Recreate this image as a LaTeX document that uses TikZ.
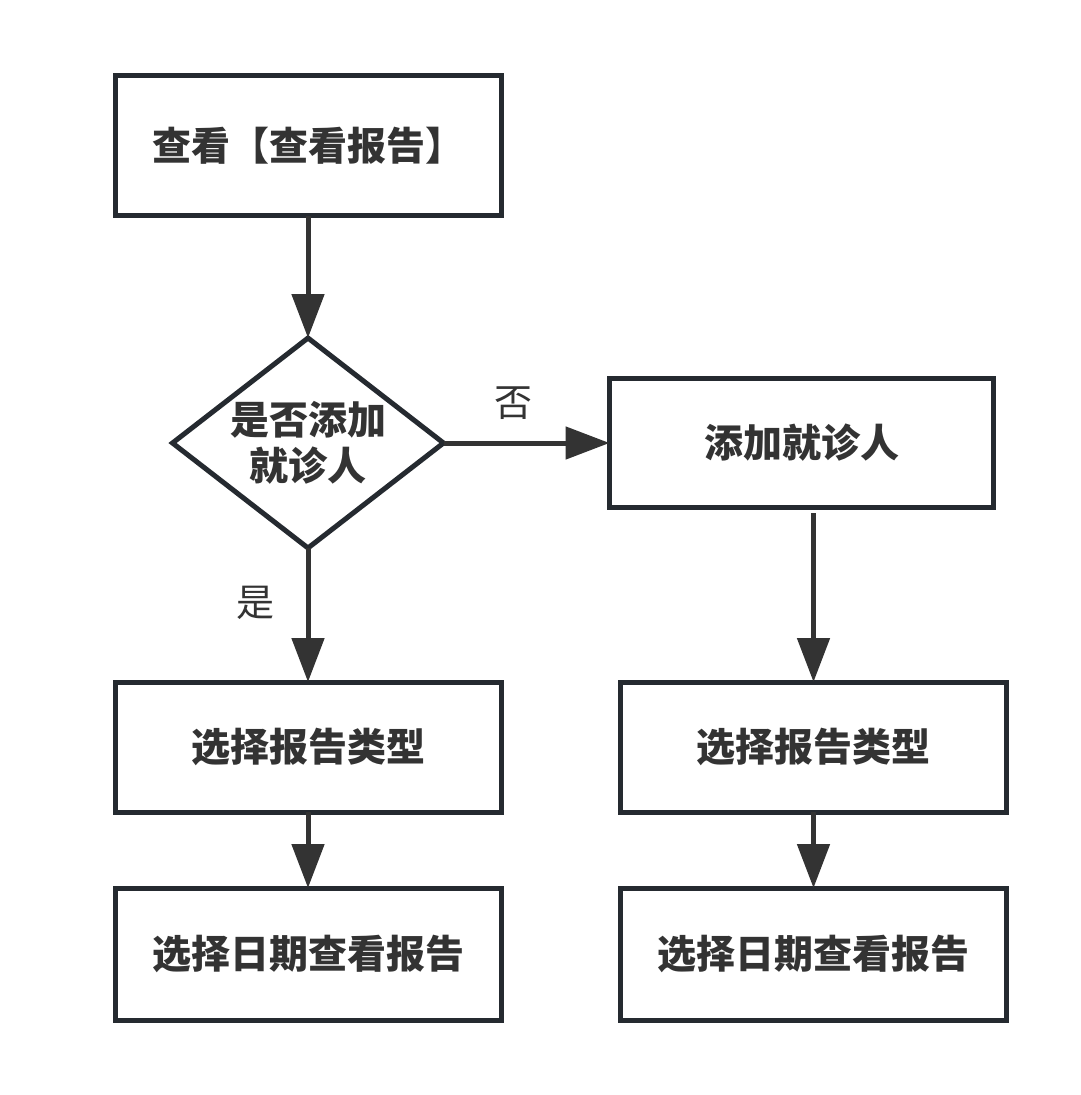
\documentclass[tikz,border=0pt]{standalone}
\usepackage{fontspec}
\newfontfamily\cjk{Noto Sans CJK SC}
\usetikzlibrary{shapes.geometric,arrows.meta}
\definecolor{bordercol}{HTML}{252A30}
\definecolor{inkcol}{HTML}{333333}
\begin{document}
\begin{tikzpicture}[x=1pt,y=-1pt,
  box/.style={draw=bordercol, line width=5pt, fill=white, minimum width=386pt,
    minimum height=130pt, inner sep=0pt, outer sep=0pt, text=inkcol,
    font=\cjk\bfseries\fontsize{39}{46}\selectfont},
  dec/.style={diamond, draw=bordercol, line width=5pt, fill=white,
    minimum width=271pt, minimum height=210pt, inner sep=0pt, outer sep=0pt,
    aspect=1.29, text=inkcol, align=center,
    font=\cjk\bfseries\fontsize{39}{46}\selectfont},
  conn/.style={draw=inkcol, line width=5pt, -{Triangle[length=44pt,width=32pt]}},
  lab/.style={text=inkcol, inner sep=0pt, font=\cjk\fontsize{38}{46}\selectfont}]
\useasboundingbox[fill=white] (0,0) rectangle (1081,1095);

\node[box, minimum height=140pt] (t) at (308,145.5) {查看【查看报告】};
\node[dec] (d) at (308,443) {是否添加\\就诊人};
\node[box, minimum width=384pt, minimum height=129pt] (r) at (801.5,443) {添加就诊人};
\node[box] (l1) at (308,747) {选择报告类型};
\node[box, minimum height=132pt] (l2) at (308,954) {选择日期查看报告};
\node[box] (r1) at (813.5,747) {选择报告类型};
\node[box, minimum height=132pt] (r2) at (813.5,954) {选择日期查看报告};

\node[lab] (no) at (513,403) {否};
\node[lab] (yes) at (255,603) {是};

\path (r.south -| r1.north) ++(0,5.5) coordinate (rs);

\draw[conn] (t.south) -- (d.north);
\draw[conn] (d.east) -- (r.west);
\draw[conn] (d.south) -- (l1.north);
\draw[conn] (rs) -- (r1.north);
\draw[conn] (l1.south) -- (l2.north);
\draw[conn] (r1.south) -- (r2.north);
\end{tikzpicture}
\end{document}
